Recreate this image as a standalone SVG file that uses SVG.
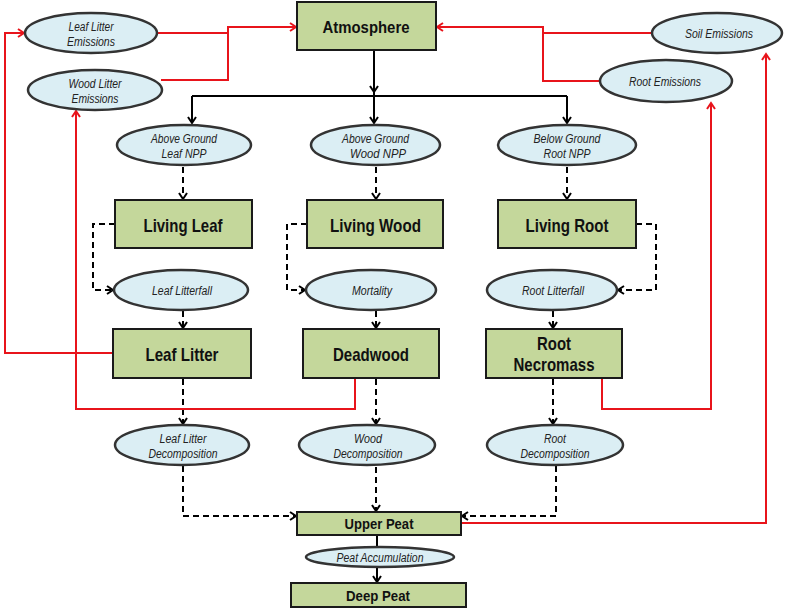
<svg xmlns="http://www.w3.org/2000/svg" width="787" height="608" viewBox="0 0 787 608">
<style>
.box{fill:#c4d79b;stroke:#1a1a1a;stroke-width:2}
.ell{fill:#dbeef4;stroke:#333;stroke-width:2.5}
.bt{font-family:"Liberation Sans",Arial,sans-serif;font-weight:bold;fill:#111;text-anchor:middle}
.et{font-family:"Liberation Sans",Arial,sans-serif;font-style:italic;font-size:12.5px;fill:#222;text-anchor:middle}
.solid{fill:none;stroke:#000;stroke-width:2}
.dash{fill:none;stroke:#000;stroke-width:2;stroke-dasharray:6,4}
.red{fill:none;stroke:#e8141b;stroke-width:2}
</style>
<defs>
<marker id="ab" markerUnits="userSpaceOnUse" markerWidth="10" markerHeight="10" refX="6" refY="4" orient="auto" overflow="visible">
<path d="M0,0 L6,4 L0,8" fill="none" stroke="#000" stroke-width="2"/>
</marker>
<marker id="ar" markerUnits="userSpaceOnUse" markerWidth="10" markerHeight="10" refX="6" refY="4" orient="auto" overflow="visible">
<path d="M0,0 L6,4 L0,8" fill="none" stroke="#e8141b" stroke-width="2"/>
</marker>
</defs>
<rect width="787" height="608" fill="#fff"/>
<g id="connectors">
<path class="solid" d="M374,50 V92" marker-end="url(#ab)"/>
<path class="solid" d="M192,96 H567"/>
<path class="solid" d="M192,96 V123" marker-end="url(#ab)"/>
<path class="solid" d="M374,92 V123" marker-end="url(#ab)"/>
<path class="solid" d="M567,96 V123" marker-end="url(#ab)"/>
<path class="solid" d="M377,535 V582" marker-end="url(#ab)"/>
<path class="dash" d="M183,167 V199" marker-end="url(#ab)"/>
<path class="dash" d="M376,167 V199" marker-end="url(#ab)"/>
<path class="dash" d="M567,167 V199" marker-end="url(#ab)"/>
<path class="dash" d="M115,224 H93 V290 H113" marker-end="url(#ab)"/>
<path class="dash" d="M307,224 H287 V290 H305" marker-end="url(#ab)"/>
<path class="dash" d="M636,224 H656 V290 H618" marker-end="url(#ab)"/>
<path class="dash" d="M183,311 V328" marker-end="url(#ab)"/>
<path class="dash" d="M376,311 V328" marker-end="url(#ab)"/>
<path class="dash" d="M553,311 V328" marker-end="url(#ab)"/>
<path class="dash" d="M183,379 V424" marker-end="url(#ab)"/>
<path class="dash" d="M376,379 V424" marker-end="url(#ab)"/>
<path class="dash" d="M553,379 V424" marker-end="url(#ab)"/>
<path class="dash" d="M183,466 V516 H296" marker-end="url(#ab)"/>
<path class="dash" d="M376,467 V511" marker-end="url(#ab)"/>
<path class="dash" d="M556,466 V516 H462" marker-end="url(#ab)"/>
<path class="red" d="M157,33 H228 V27 H296" marker-end="url(#ar)"/>
<path class="red" d="M161,80 H228 V33"/>
<path class="red" d="M113,353 H5 V33 H24" marker-end="url(#ar)"/>
<path class="red" d="M355,378 V409 H76 V111" marker-end="url(#ar)"/>
<path class="red" d="M602,378 V409 H711 V103" marker-end="url(#ar)"/>
<path class="red" d="M461,523 H766 V54" marker-end="url(#ar)"/>
<path class="red" d="M652,33 H543 V27 H437" marker-end="url(#ar)"/>
<path class="red" d="M600,81 H543 V33"/>
</g>
<g id="atmosphere"><rect class="box" x="297" y="2" width="139" height="48"/><text class="bt" x="366" y="33" font-size="17" textLength="87" lengthAdjust="spacingAndGlyphs">Atmosphere</text></g>
<g id="leaf-litter-emissions"><ellipse class="ell" cx="91" cy="33" rx="66" ry="20"/><text class="et" x="91" y="31" textLength="45" lengthAdjust="spacingAndGlyphs">Leaf Litter</text><text class="et" x="91" y="46" textLength="48" lengthAdjust="spacingAndGlyphs">Emissions</text></g>
<g id="wood-litter-emissions"><ellipse class="ell" cx="95" cy="90" rx="67" ry="20"/><text class="et" x="95" y="88" textLength="53" lengthAdjust="spacingAndGlyphs">Wood Litter</text><text class="et" x="95" y="103" textLength="47" lengthAdjust="spacingAndGlyphs">Emissions</text></g>
<g id="soil-emissions"><ellipse class="ell" cx="717" cy="33" rx="65" ry="20"/><text class="et" x="719" y="37.5" textLength="68" lengthAdjust="spacingAndGlyphs">Soil Emissions</text></g>
<g id="root-emissions"><ellipse class="ell" cx="666" cy="81" rx="66" ry="21"/><text class="et" x="665" y="85.5" textLength="72" lengthAdjust="spacingAndGlyphs">Root Emissions</text></g>
<g id="ag-leaf-npp"><ellipse class="ell" cx="184" cy="145" rx="67" ry="20"/><text class="et" x="184" y="143" textLength="66" lengthAdjust="spacingAndGlyphs">Above Ground</text><text class="et" x="184" y="158" textLength="45" lengthAdjust="spacingAndGlyphs">Leaf NPP</text></g>
<g id="ag-wood-npp"><ellipse class="ell" cx="375.5" cy="145" rx="64.5" ry="20"/><text class="et" x="375.5" y="143" textLength="67" lengthAdjust="spacingAndGlyphs">Above Ground</text><text class="et" x="378" y="158" textLength="56" lengthAdjust="spacingAndGlyphs">Wood NPP</text></g>
<g id="bg-root-npp"><ellipse class="ell" cx="567" cy="145" rx="69" ry="20"/><text class="et" x="567" y="143" textLength="67" lengthAdjust="spacingAndGlyphs">Below Ground</text><text class="et" x="567" y="158" textLength="47" lengthAdjust="spacingAndGlyphs">Root NPP</text></g>
<g id="living-leaf"><rect class="box" x="115" y="200" width="137" height="48"/><text class="bt" x="183" y="232" font-size="18.5" textLength="79" lengthAdjust="spacingAndGlyphs">Living Leaf</text></g>
<g id="living-wood"><rect class="box" x="307" y="200" width="136" height="48"/><text class="bt" x="375.5" y="232" font-size="18.5" textLength="91" lengthAdjust="spacingAndGlyphs">Living Wood</text></g>
<g id="living-root"><rect class="box" x="498" y="200" width="138" height="48"/><text class="bt" x="567" y="232" font-size="18.5" textLength="83" lengthAdjust="spacingAndGlyphs">Living Root</text></g>
<g id="leaf-litterfall"><ellipse class="ell" cx="181" cy="290" rx="67" ry="20"/><text class="et" x="182" y="295" textLength="60" lengthAdjust="spacingAndGlyphs">Leaf Litterfall</text></g>
<g id="mortality"><ellipse class="ell" cx="371" cy="290" rx="65" ry="20"/><text class="et" x="372" y="295" textLength="40" lengthAdjust="spacingAndGlyphs">Mortality</text></g>
<g id="root-litterfall"><ellipse class="ell" cx="552" cy="290" rx="65" ry="20"/><text class="et" x="553" y="295" textLength="62" lengthAdjust="spacingAndGlyphs">Root Litterfall</text></g>
<g id="leaf-litter"><rect class="box" x="113" y="329" width="138" height="49"/><text class="bt" x="182" y="361" font-size="18.5" textLength="73" lengthAdjust="spacingAndGlyphs">Leaf Litter</text></g>
<g id="deadwood"><rect class="box" x="303" y="329" width="136" height="49"/><text class="bt" x="371" y="361" font-size="18.5" textLength="76" lengthAdjust="spacingAndGlyphs">Deadwood</text></g>
<g id="root-necromass"><rect class="box" x="486" y="329" width="136" height="49"/><text class="bt" x="554" y="350" font-size="18.5" textLength="34" lengthAdjust="spacingAndGlyphs">Root</text><text class="bt" x="554" y="371" font-size="18.5" textLength="81" lengthAdjust="spacingAndGlyphs">Necromass</text></g>
<g id="leaf-litter-decomposition"><ellipse class="ell" cx="182" cy="445" rx="67" ry="20"/><text class="et" x="183" y="443" textLength="47" lengthAdjust="spacingAndGlyphs">Leaf Litter</text><text class="et" x="183" y="458" textLength="69" lengthAdjust="spacingAndGlyphs">Decomposition</text></g>
<g id="wood-decomposition"><ellipse class="ell" cx="367" cy="445" rx="68" ry="20"/><text class="et" x="368" y="443" textLength="28" lengthAdjust="spacingAndGlyphs">Wood</text><text class="et" x="368" y="458" textLength="69" lengthAdjust="spacingAndGlyphs">Decomposition</text></g>
<g id="root-decomposition"><ellipse class="ell" cx="555" cy="445" rx="68" ry="20"/><text class="et" x="555" y="443" textLength="22" lengthAdjust="spacingAndGlyphs">Root</text><text class="et" x="555" y="458" textLength="69" lengthAdjust="spacingAndGlyphs">Decomposition</text></g>
<g id="upper-peat"><rect class="box" x="297" y="512" width="164" height="23"/><text class="bt" x="379" y="529" font-size="15.5" textLength="69" lengthAdjust="spacingAndGlyphs">Upper Peat</text></g>
<g id="peat-accumulation"><ellipse class="ell" cx="380" cy="557" rx="74" ry="10"/><text class="et" x="380" y="561.5" textLength="87" lengthAdjust="spacingAndGlyphs">Peat Accumulation</text></g>
<g id="deep-peat"><rect class="box" x="291" y="583" width="175" height="24"/><text class="bt" x="378" y="601" font-size="15.5" textLength="64" lengthAdjust="spacingAndGlyphs">Deep Peat</text></g>
</svg>
